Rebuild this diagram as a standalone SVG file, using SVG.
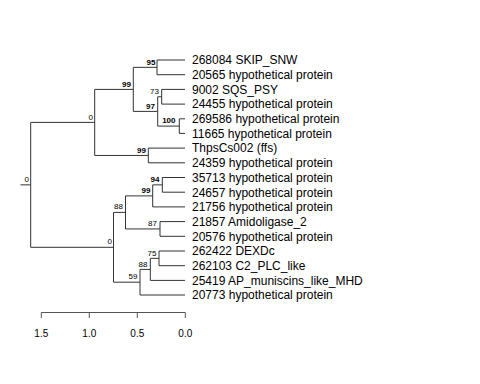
<svg xmlns="http://www.w3.org/2000/svg" width="480" height="384" viewBox="0 0 480 384">
<style>
.e{fill:none;stroke:#333;stroke-width:1}
.ax{fill:none;stroke:#555;stroke-width:1}
.lf{font-family:"Liberation Sans",Arial,sans-serif;font-size:12px;fill:#000}
.bs{font-family:"Liberation Sans",Arial,sans-serif;font-size:8px;fill:#000;text-anchor:end}
.b{font-weight:bold}
.at{font-family:"Liberation Sans",Arial,sans-serif;font-size:10px;fill:#000;text-anchor:middle}
</style>
<rect width="480" height="384" fill="#fff"/>
<g id="connectors">
<path class="e" d="M20.5,184.85H30.7 M30.7,122.4V247.3 M30.7,122.4H94.7 M30.7,247.3H113.5"/>
<path class="e" d="M94.7,89.4V155.45 M94.7,89.4H133.3 M94.7,155.45H148.3"/>
<path class="e" d="M133.3,67.35V111.4 M133.3,67.35H157 M133.3,111.4H157.7"/>
<path class="e" d="M157,60V74.7 M157,60H185 M157,74.7H185"/>
<path class="e" d="M157.7,96.75V126.1 M157.7,96.75H161.7 M157.7,126.1H179.3"/>
<path class="e" d="M161.7,89.4V104.1 M161.7,89.4H185 M161.7,104.1H185"/>
<path class="e" d="M179.3,118.8V133.4 M179.3,118.8H185 M179.3,133.4H185"/>
<path class="e" d="M148.3,148.1V162.8 M148.3,148.1H185 M148.3,162.8H185"/>
<path class="e" d="M113.5,212.4V282.2 M113.5,212.4H125.5 M113.5,282.2H140"/>
<path class="e" d="M125.5,195.9V228.95 M125.5,195.9H152.7 M125.5,228.95H160"/>
<path class="e" d="M152.7,184.85V206.9 M152.7,184.85H162.3 M152.7,206.9H185"/>
<path class="e" d="M162.3,177.5V192.2 M162.3,177.5H185 M162.3,192.2H185"/>
<path class="e" d="M160,221.6V236.3 M160,221.6H185 M160,236.3H185"/>
<path class="e" d="M140,269.4V295 M140,269.4H150.3 M140,295H185"/>
<path class="e" d="M150.3,258.35V280.4 M150.3,258.35H159 M150.3,280.4H185"/>
<path class="e" d="M159,251V265.7 M159,251H185 M159,265.7H185"/>
</g>
<g id="leaves">
<g id="leaf1"><text class="lf" x="192" y="64.3">268084 SKIP_SNW</text></g>
<g id="leaf2"><text class="lf" x="192" y="79">20565 hypothetical protein</text></g>
<g id="leaf3"><text class="lf" x="192" y="93.7">9002 SQS_PSY</text></g>
<g id="leaf4"><text class="lf" x="192" y="108.4">24455 hypothetical protein</text></g>
<g id="leaf5"><text class="lf" x="192" y="123.1">269586 hypothetical protein</text></g>
<g id="leaf6"><text class="lf" x="192" y="137.7">11665 hypothetical protein</text></g>
<g id="leaf7"><text class="lf" x="192" y="152.4">ThpsCs002 (ffs)</text></g>
<g id="leaf8"><text class="lf" x="192" y="167.1">24359 hypothetical protein</text></g>
<g id="leaf9"><text class="lf" x="192" y="181.8">35713 hypothetical protein</text></g>
<g id="leaf10"><text class="lf" x="192" y="196.5">24657 hypothetical protein</text></g>
<g id="leaf11"><text class="lf" x="192" y="211.2">21756 hypothetical protein</text></g>
<g id="leaf12"><text class="lf" x="192" y="225.9">21857 Amidoligase_2</text></g>
<g id="leaf13"><text class="lf" x="192" y="240.6">20576 hypothetical protein</text></g>
<g id="leaf14"><text class="lf" x="192" y="255.3">262422 DEXDc</text></g>
<g id="leaf15"><text class="lf" x="192" y="270">262103 C2_PLC_like</text></g>
<g id="leaf16"><text class="lf" x="192" y="284.7">25419 AP_muniscins_like_MHD</text></g>
<g id="leaf17"><text class="lf" x="192" y="299.3">20773 hypothetical protein</text></g>
</g>
<g id="internal">
<g id="n95"><text class="bs b" x="155.5" y="64.7">95</text></g>
<g id="n99a"><text class="bs b" x="131" y="86.5">99</text></g>
<g id="n73"><text class="bs" x="159" y="94.3">73</text></g>
<g id="n97"><text class="bs b" x="155" y="108.7">97</text></g>
<g id="n100"><text class="bs b" x="175.5" y="123.3">100</text></g>
<g id="n0u"><text class="bs" x="93" y="119.5">0</text></g>
<g id="n99b"><text class="bs b" x="146" y="152.5">99</text></g>
<g id="nroot"><text class="bs" x="29" y="181.8">0</text></g>
<g id="n94"><text class="bs b" x="159.5" y="181.8">94</text></g>
<g id="n99c"><text class="bs b" x="150.5" y="192.8">99</text></g>
<g id="n88a"><text class="bs" x="123" y="209.3">88</text></g>
<g id="n87"><text class="bs" x="157" y="225.8">87</text></g>
<g id="n0l"><text class="bs" x="112" y="244.3">0</text></g>
<g id="n75"><text class="bs" x="156.5" y="255.6">75</text></g>
<g id="n88b"><text class="bs" x="147.5" y="266.6">88</text></g>
<g id="n59"><text class="bs" x="137.5" y="279.4">59</text></g>
</g>
<g id="axis">
<path class="ax" d="M41.3,312.5H185.3 M41.3,312.5V318 M89.3,312.5V318 M137.3,312.5V318 M185.3,312.5V318"/>
<text class="at" x="41.3" y="337">1.5</text>
<text class="at" x="89.3" y="337">1.0</text>
<text class="at" x="137.3" y="337">0.5</text>
<text class="at" x="185.3" y="337">0.0</text>
</g>
</svg>
